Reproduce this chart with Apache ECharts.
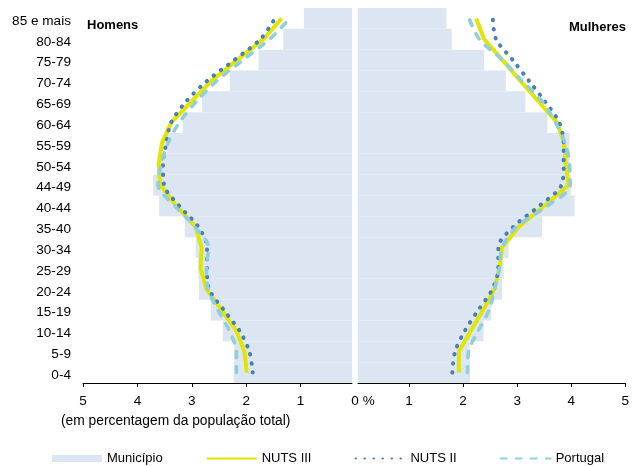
<!DOCTYPE html>
<html>
<head>
<meta charset="utf-8">
<script src="https://cdn.jsdelivr.net/npm/echarts@6/dist/echarts.min.js"></script>
<style>html,body{margin:0;padding:0;background:#fff}#c{width:632px;height:466px}</style>
</head>
<body>
<div id="c"></div>
<script>
// Categories, bottom (0-4) to top (85 e mais)
const categories = ['0-4','5-9','10-14','15-19','20-24','25-29','30-34','35-40','40-44','44-49','50-54','55-59','60-64','65-69','70-74','75-79','80-84','85 e mais'];

// Homens (% of total population)
const menMunicipio = [2.23, 2.22, 2.43, 2.65, 2.87, 2.88, 2.93, 3.13, 3.60, 3.71, 3.59, 3.46, 3.17, 2.81, 2.30, 1.77, 1.32, 0.94];
const menNuts3     = [1.99, 2.03, 2.18, 2.45, 2.73, 2.84, 2.82, 2.93, 3.28, 3.58, 3.61, 3.55, 3.38, 3.01, 2.64, 2.17, 1.68, 1.35];
const menNuts2     = [1.88, 1.94, 2.12, 2.41, 2.68, 2.72, 2.72, 2.88, 3.23, 3.51, 3.53, 3.47, 3.38, 3.11, 2.72, 2.22, 1.74, 1.47];
const menPortugal  = [2.18, 2.18, 2.31, 2.52, 2.70, 2.73, 2.69, 2.95, 3.31, 3.62, 3.56, 3.44, 3.23, 2.92, 2.54, 2.06, 1.57, 1.20];

// Mulheres
const womenMunicipio = [2.13, 2.12, 2.38, 2.52, 2.72, 2.75, 2.84, 3.46, 4.06, 3.99, 3.97, 3.97, 3.56, 3.15, 2.79, 2.39, 1.79, 1.69];
const womenNuts3     = [1.92, 1.92, 2.14, 2.37, 2.58, 2.67, 2.72, 3.03, 3.50, 3.95, 3.90, 3.87, 3.74, 3.40, 3.06, 2.73, 2.39, 2.24];
const womenNuts2     = [1.80, 1.85, 2.03, 2.28, 2.54, 2.65, 2.65, 2.93, 3.41, 3.82, 3.86, 3.86, 3.78, 3.52, 3.22, 2.92, 2.61, 2.55];
const womenPortugal  = [2.08, 2.10, 2.28, 2.48, 2.58, 2.67, 2.72, 2.99, 3.56, 3.98, 3.97, 3.89, 3.71, 3.47, 3.09, 2.73, 2.30, 2.11];

const tickValues = [1, 2, 3, 4, 5];
const seriesNames = ['Município', 'NUTS III', 'NUTS II', 'Portugal'];

const FONT = "'Liberation Sans', Arial, sans-serif";
const COL_BAR = '#dce6f2', COL_N3 = '#e0e600', COL_N2 = '#4a7ebb', COL_PT = '#92cddc';
const AXMIN = 0.055; // inner gap between the two halves

const chart = echarts.init(document.getElementById('c'), null, {renderer: 'canvas'});

function xAxisCfg(idx, inverse, labelVals) {
  return {
    type: 'value', gridIndex: idx, inverse: inverse, min: AXMIN, max: 5,
    axisLine: {show: true, onZero: false, lineStyle: {color: '#000', width: 1}},
    axisTick: {show: true, length: 4, lineStyle: {color: '#000'}, customValues: tickValues},
    axisLabel: {
      customValues: labelVals, margin: 11, color: '#000', fontSize: 13.5, fontFamily: FONT,
      formatter: v => v < 0.5 ? '{z|0 %}' : String(Math.round(v)),
      rich: {z: {padding: [0, 0, 0, 10], fontSize: 13.5, fontFamily: FONT, color: '#000'}}
    },
    splitLine: {show: false}
  };
}

function barS(name, data, idx) {
  return {name, type: 'bar', xAxisIndex: idx, yAxisIndex: idx, data,
    barCategoryGap: '0%', itemStyle: {color: COL_BAR}, silent: true, emphasis: {disabled: true}};
}
function lineS(name, data, idx, ls, smooth) {
  return {name, type: 'line', xAxisIndex: idx, yAxisIndex: idx, data,
    symbol: 'none', showSymbol: false, smooth: smooth, lineStyle: ls,
    itemStyle: {color: ls.color}, silent: true, emphasis: {disabled: true}};
}
const lsN3 = {color: COL_N3, width: 4};
const lsN2 = {color: COL_N2, width: 4, type: [0.5, 8.5], cap: 'round'};
const lsPT = {color: COL_PT, width: 3.6, type: [6, 9], cap: 'round'};

const noSym = {opacity: 0};

chart.setOption({
  animation: false,
  textStyle: {fontFamily: FONT},
  title: [
    {text: 'Homens', left: 87, top: 19, padding: 0, textStyle: {fontSize: 13, fontWeight: 'bold', color: '#000', fontFamily: FONT}},
    {text: 'Mulheres', right: 6, top: 21, padding: 0, textStyle: {fontSize: 13, fontWeight: 'bold', color: '#000', fontFamily: FONT}},
    {text: '(em percentagem da população total)', left: 61, top: 414, padding: 0, textStyle: {fontSize: 13.8, fontWeight: 'normal', color: '#000', fontFamily: FONT}}
  ],
  legend: {
    left: 52, top: 452, padding: 0, itemWidth: 50, itemHeight: 7, itemGap: 43,
    textStyle: {fontSize: 13, color: '#000', fontFamily: FONT},
    data: [
      {name: seriesNames[0], icon: 'rect'},
      {name: seriesNames[1], itemStyle: noSym},
      {name: seriesNames[2], itemStyle: noSym},
      {name: seriesNames[3], itemStyle: noSym}
    ],
    selectedMode: false
  },
  grid: [
    {left: 83, width: 269, top: 8, height: 375},
    {left: 358, width: 269, top: 8, height: 375}
  ],
  xAxis: [xAxisCfg(0, true, tickValues), xAxisCfg(1, false, [AXMIN].concat(tickValues))],
  yAxis: [
    {type: 'category', gridIndex: 0, data: categories, position: 'left',
      axisLine: {show: false, onZero: false}, axisTick: {show: false},
      axisLabel: {margin: 12, color: '#000', fontSize: 13.6, fontFamily: FONT,
        formatter: v => '{a|' + v + '}',
        rich: {a: {padding: [5, 0, 0, 0], fontSize: 13.6, fontFamily: FONT, color: '#000'}}}},
    {type: 'category', gridIndex: 1, data: categories, show: false}
  ],
  series: [
    barS(seriesNames[0], menMunicipio, 0),
    lineS(seriesNames[1], menNuts3, 0, lsN3, false),
    lineS(seriesNames[2], menNuts2, 0, lsN2, 0.3),
    lineS(seriesNames[3], menPortugal, 0, lsPT, 0.3),
    barS(seriesNames[0], womenMunicipio, 1),
    lineS(seriesNames[1], womenNuts3, 1, lsN3, false),
    lineS(seriesNames[2], womenNuts2, 1, lsN2, 0.3),
    lineS(seriesNames[3], womenPortugal, 1, lsPT, 0.3)
  ]
});
</script>
</body>
</html>
